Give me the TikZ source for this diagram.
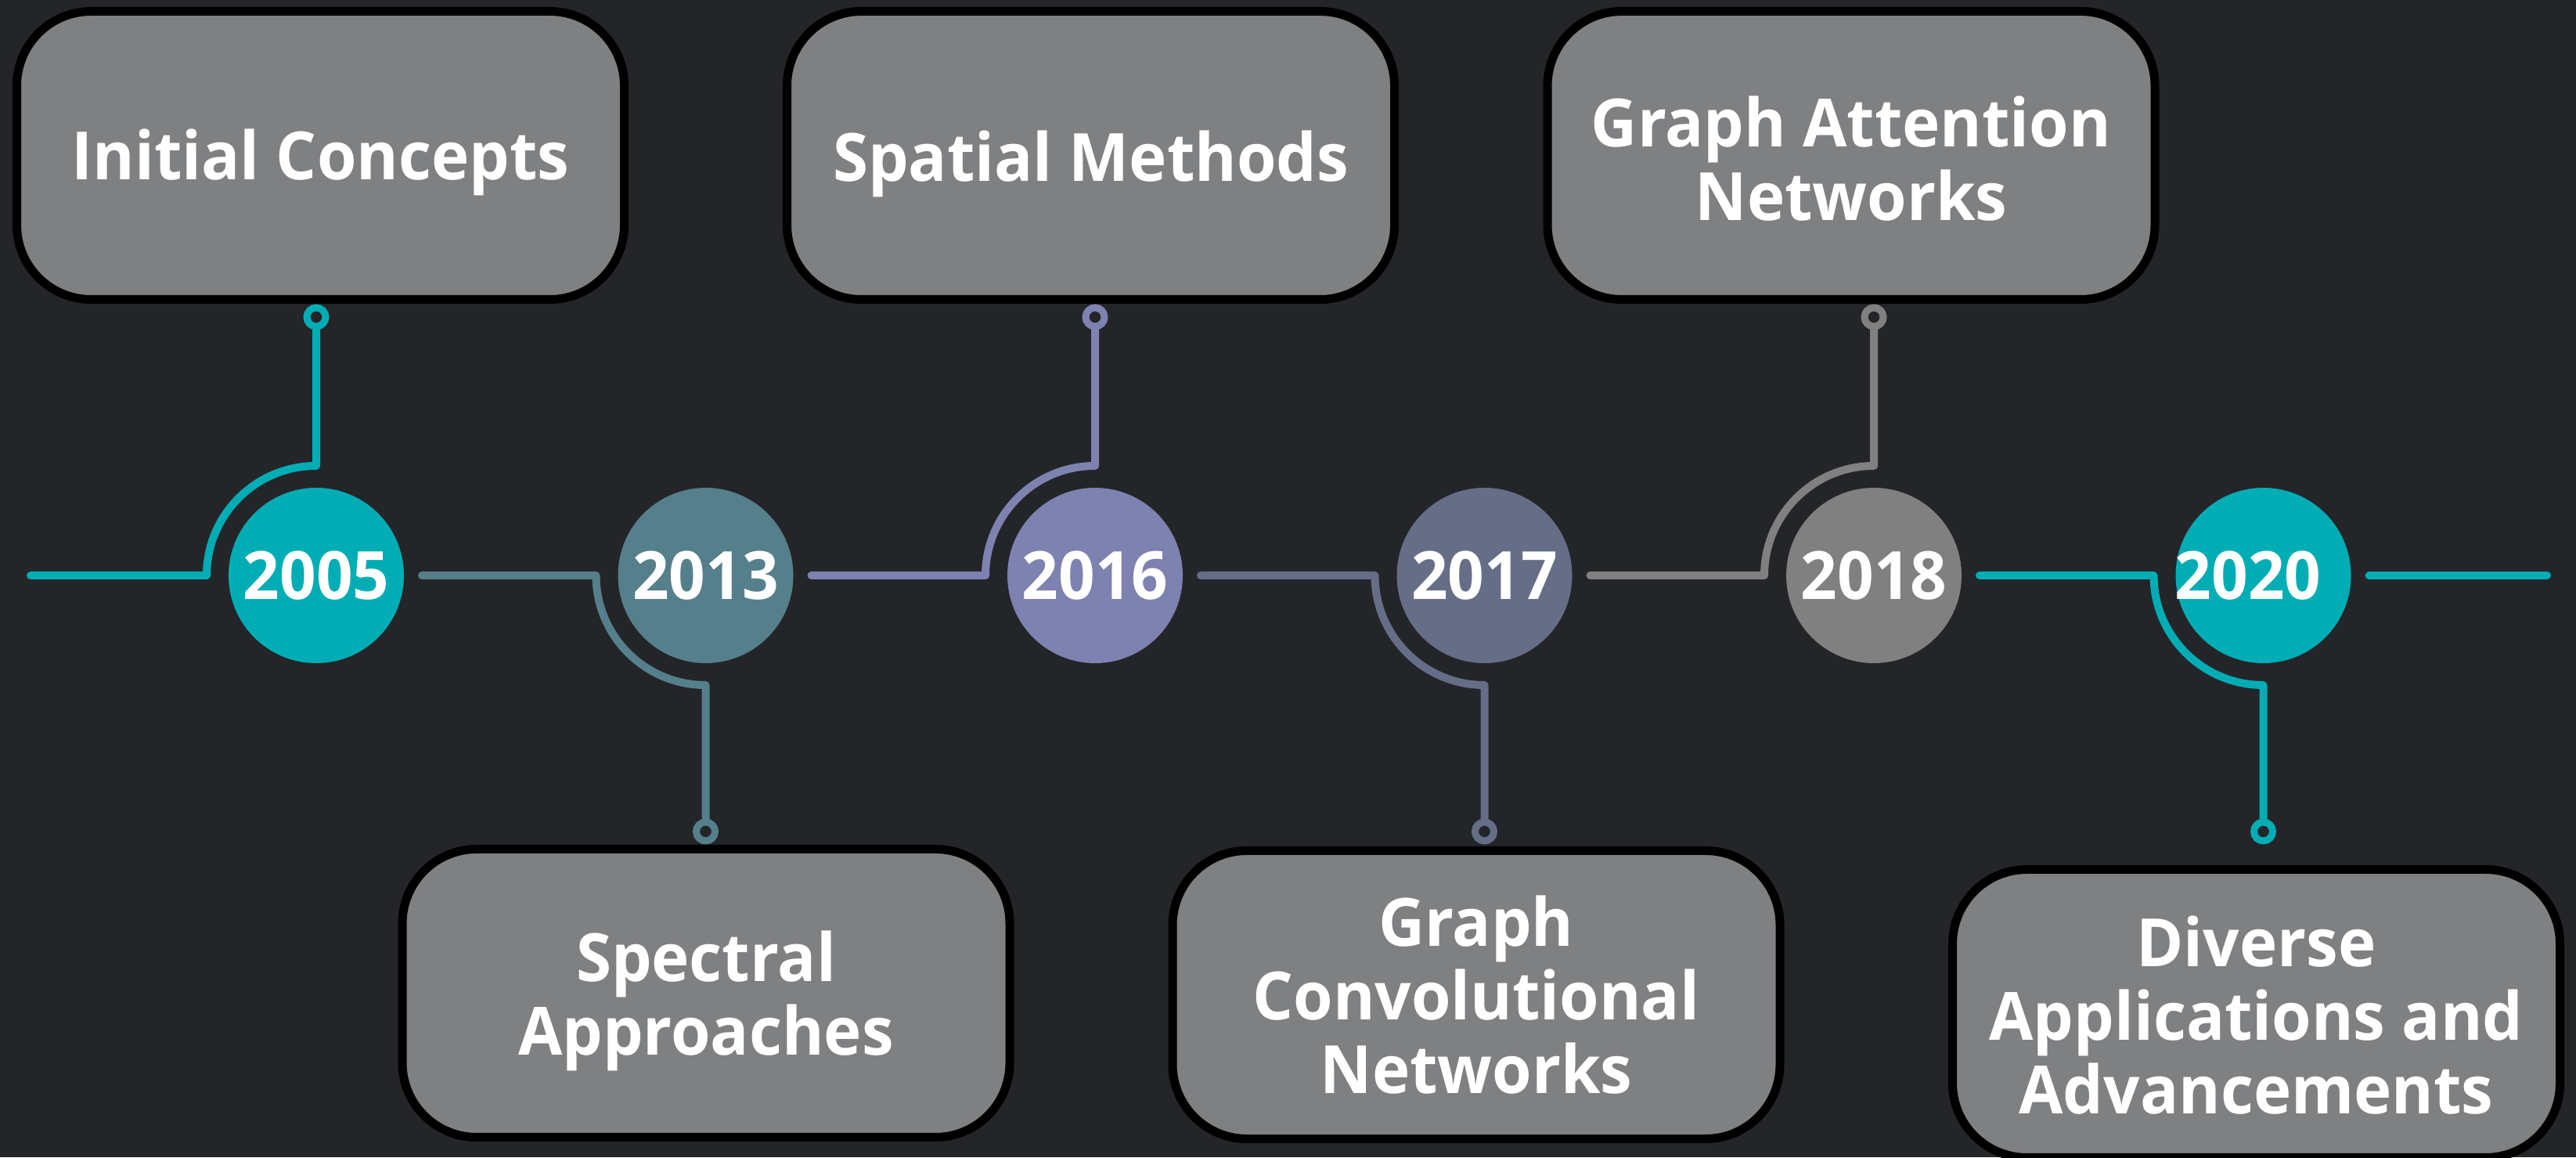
\documentclass[tikz,border=0pt]{standalone}
\usepackage{fontspec}
\setmainfont{Open Sans}[BoldFeatures={FakeStretch=0.96}]
\definecolor{bg}{HTML}{242529}
\definecolor{cteal}{HTML}{01ADB5}
\definecolor{cslate}{HTML}{557F8B}
\definecolor{cviolet}{HTML}{7E82B0}
\definecolor{cnavy}{HTML}{666E87}
\definecolor{cgray}{HTML}{808080}
\definecolor{boxfill}{HTML}{7F8082}
\tikzset{
  yearnode/.style={circle, minimum size=2.24cm, inner sep=0pt, text=white,
    font=\fontsize{24.2pt}{26.8pt}\selectfont\bfseries},
  ringnode/.style={circle, minimum size=0.24cm, inner sep=0pt, line width=0.09cm, fill=bg},
  eventbox/.style={draw=black, fill=boxfill, line width=0.11cm, rounded corners=0.95cm,
    minimum width=7.76cm, minimum height=3.68cm, inner sep=0pt},
  boxtext/.style={inner sep=0pt, align=center, text=white,
    font=\fontsize{24.2pt}{26.8pt}\selectfont\bfseries},
  tline/.style={line width=0.1cm, line cap=round, line join=round}
}
\begin{document}
\begin{tikzpicture}
\fill[bg] (0,0) rectangle (32.91,14.78);
\useasboundingbox (0,0) rectangle (32.91,14.78);

% year circles
\node[yearnode, fill=cteal]   (y2005) at (4.04,7.43)   {2005};
\node[yearnode, fill=cslate]  (y2013) at (9.015,7.43)  {2013};
\node[yearnode, fill=cviolet] (y2016) at (13.99,7.43)  {2016};
\node[yearnode, fill=cnavy]   (y2017) at (18.965,7.43) {2017};
\node[yearnode, fill=cgray]   (y2018) at (23.94,7.43)  {2018};
\node[yearnode, fill=cteal]   (y2020) at (28.915,7.43) {};
\node[boxtext] (t2020) at (28.72,7.43) {2020};

% rings
\node[ringnode, draw=cteal]   (r1) at (4.04,10.73) {};
\node[ringnode, draw=cslate]  (r2) at (9.015,4.16) {};
\node[ringnode, draw=cviolet] (r3) at (13.99,10.73) {};
\node[ringnode, draw=cnavy]   (r4) at (18.965,4.16) {};
\node[ringnode, draw=cgray]   (r5) at (23.94,10.73) {};
\node[ringnode, draw=cteal]   (r6) at (28.915,4.16) {};

% boxes
\node[eventbox] (b1) at (4.095,12.795) {};
\node[eventbox] (b2) at (13.935,12.795) {};
\node[eventbox] (b3) at (23.65,12.795) {};
\node[eventbox] (b4) at (9.02,2.095) {};
\node[eventbox] (b5) at (18.86,2.075) {};
\node[eventbox] (b6) at (28.825,1.835) {};
\node[boxtext] (b1t) at ([yshift=-0.09cm]b1.center) {Initial Concepts};
\node[boxtext] (b2t) at ([yshift=-0.11cm]b2.center) {Spatial Methods};
\node[boxtext] (b3t) at ([yshift=-0.04cm]b3.center) {Graph Attention\\Networks};
\node[boxtext] (b4t) at ([yshift=-0.1cm]b4.center) {Spectral\\Approaches};
\node[boxtext] (b5t) at (b5.center) {Graph\\Convolutional\\Networks};
\node[boxtext] (b6t) at ([yshift=-0.02cm]b6.center) {Diverse\\Applications and\\Advancements};

% connectors
\draw[tline, cteal] ([xshift=-3.65cm]y2005.center) -- ([xshift=-1.4cm]y2005.center)
  arc[start angle=180, end angle=90, radius=1.4cm] -- (r1.south);
\draw[tline, cslate] ([xshift=1.35cm]y2005.center) -- ([xshift=-1.4cm]y2013.center)
  arc[start angle=180, end angle=270, radius=1.4cm] -- (r2.north);
\draw[tline, cviolet] ([xshift=1.35cm]y2013.center) -- ([xshift=-1.4cm]y2016.center)
  arc[start angle=180, end angle=90, radius=1.4cm] -- (r3.south);
\draw[tline, cnavy] ([xshift=1.35cm]y2016.center) -- ([xshift=-1.4cm]y2017.center)
  arc[start angle=180, end angle=270, radius=1.4cm] -- (r4.north);
\draw[tline, cgray] ([xshift=1.35cm]y2017.center) -- ([xshift=-1.4cm]y2018.center)
  arc[start angle=180, end angle=90, radius=1.4cm] -- (r5.south);
\draw[tline, cteal] ([xshift=1.35cm]y2018.center) -- ([xshift=-1.4cm]y2020.center)
  arc[start angle=180, end angle=270, radius=1.4cm] -- (r6.north);
\coordinate (tend) at (32.54,7.43);
\draw[tline, cteal] ([xshift=1.35cm]y2020.center) -- (tend);
\end{tikzpicture}
\end{document}
